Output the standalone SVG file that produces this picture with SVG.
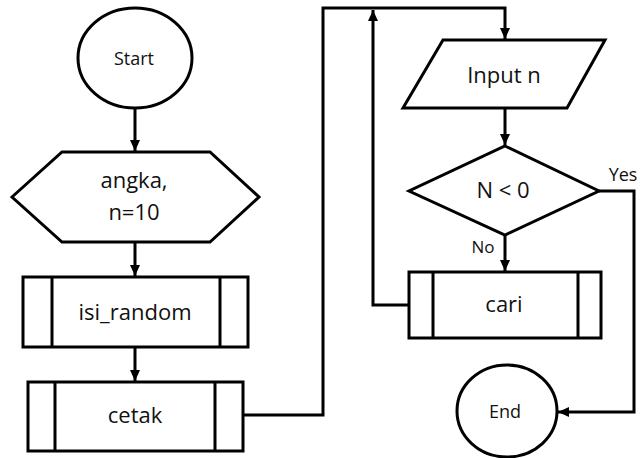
<svg xmlns="http://www.w3.org/2000/svg" width="640" height="458" viewBox="0 0 640 458">
  <style>
    .shape { fill: #ffffff; stroke: #000000; stroke-width: 3; stroke-linejoin: miter; }
    .bar { fill: none; stroke: #000000; stroke-width: 3; }
    .link { fill: none; stroke: #000000; stroke-width: 3; }
    .lbl { font-family: "Open Sans", "Liberation Sans", sans-serif; fill: #111111; text-anchor: middle; }
    .big { font-size: 22px; }
    .small { font-size: 18px; }
  </style>
  <defs>
    <marker id="arrow" markerUnits="userSpaceOnUse" markerWidth="12" markerHeight="12" viewBox="0 0 12 12" refX="11" refY="6" orient="auto">
      <path d="M0,1 L11,6 L0,11 Z" fill="#000000"/>
    </marker>
  </defs>

  <!-- connectors -->
  <g id="connectors">
    <path class="link" d="M135,108 V151" marker-end="url(#arrow)"/>
    <path class="link" d="M135,242 V276" marker-end="url(#arrow)"/>
    <path class="link" d="M135,347 V381" marker-end="url(#arrow)"/>
    <path class="link" d="M243,415 H323 V8 H505 V39" marker-end="url(#arrow)"/>
    <path class="link" d="M409,305 H373 V10" marker-end="url(#arrow)"/>
    <path class="link" d="M505,108 V145" marker-end="url(#arrow)"/>
    <path class="link" d="M505,235 V271" marker-end="url(#arrow)"/>
    <path class="link" d="M599,191 H634 V412 H558" marker-end="url(#arrow)"/>
    <text class="lbl small" x="623" y="181">Yes</text>
    <text class="lbl" style="font-size:17px" x="483" y="253">No</text>
  </g>

  <!-- start terminal -->
  <g id="start">
    <ellipse class="shape" cx="135" cy="58" rx="57" ry="50"/>
    <text class="lbl small" x="134" y="65">Start</text>
  </g>

  <!-- preparation: variables -->
  <g id="init">
    <polygon class="shape" points="12,197 62,152 210,152 259,197 210,242 62,242"/>
    <text class="lbl big" x="134" y="188">angka,</text>
    <text class="lbl big" x="134" y="220">n=10</text>
  </g>

  <!-- predefined process: fill random -->
  <g id="isi_random">
    <rect class="shape" x="23" y="277" width="225" height="70"/>
    <path class="bar" d="M52,277 V347 M220,277 V347"/>
    <text class="lbl big" x="135" y="320">isi_random</text>
  </g>

  <!-- predefined process: print -->
  <g id="cetak">
    <rect class="shape" x="28" y="382" width="215" height="69"/>
    <path class="bar" d="M55,382 V451 M215,382 V451"/>
    <text class="lbl big" x="135" y="423">cetak</text>
  </g>

  <!-- input -->
  <g id="input">
    <polygon class="shape" points="443,40 605,40 567,108 403,108"/>
    <text class="lbl big" x="504" y="83">Input n</text>
  </g>

  <!-- decision -->
  <g id="decision">
    <polygon class="shape" points="505,146 599,191 505,235 409,191"/>
    <text class="lbl big" x="503" y="198">N &lt; 0</text>
  </g>

  <!-- predefined process: search -->
  <g id="cari">
    <rect class="shape" x="409" y="272" width="192" height="66"/>
    <path class="bar" d="M433,272 V338 M578,272 V338"/>
    <text class="lbl big" x="504" y="312">cari</text>
  </g>

  <!-- end terminal -->
  <g id="end">
    <ellipse class="shape" cx="507" cy="411" rx="50" ry="46"/>
    <text class="lbl small" x="505" y="418">End</text>
  </g>
</svg>
